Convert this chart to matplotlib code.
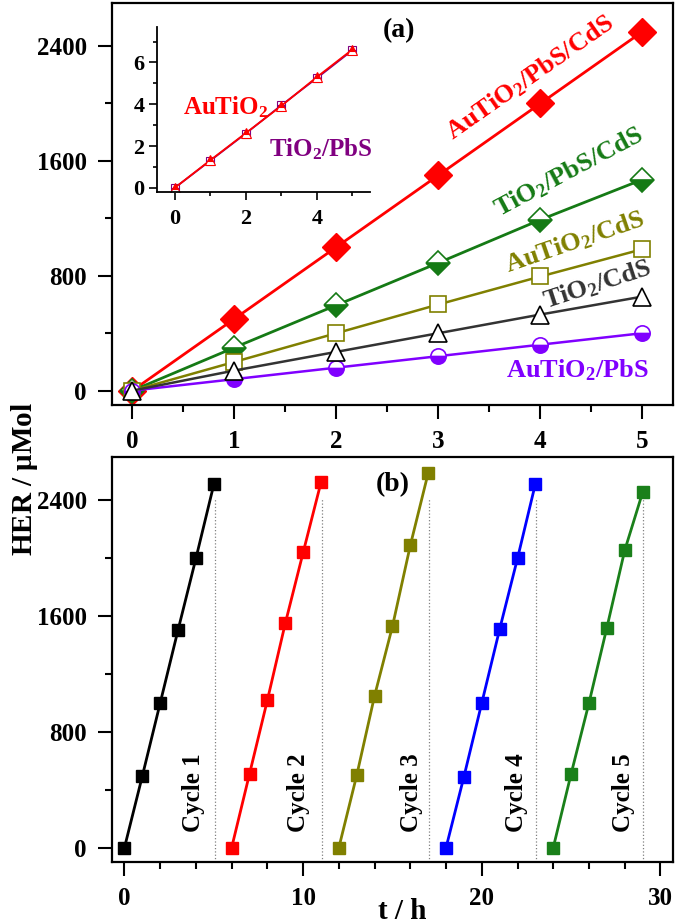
"""
HER vs. time for the photocatalyst series (a) and the recycling test (b)
"""

#---------------------------------------------------------------------------------------------------
# Import Modules
#---------------------------------------------------------------------------------------------------

import matplotlib
matplotlib.use('Agg')
import matplotlib.pyplot as plt
from matplotlib.ticker import MultipleLocator


#---------------------------------------------------------------------------------------------------
# Input Parameters
#---------------------------------------------------------------------------------------------------

# Panel (a): irradiation time (h)
t_a = [0, 1, 2, 3, 4, 5]

# Panel (a): HER (umol) for each catalyst
her_au_pbs_cds = [0, 500, 1000, 1500, 2000, 2500]
her_ti_pbs_cds = [0, 300, 595, 890, 1190, 1470]
her_au_cds = [0, 200, 400, 600, 795, 985]
her_ti_cds = [0, 140, 270, 400, 530, 655]
her_au_pbs = [0, 80, 160, 240, 320, 400]

# Inset: HER for the bare catalysts
her_au = [0, 1.32, 2.62, 3.92, 5.3, 6.62]
her_ti_pbs = [0, 1.3, 2.6, 3.95, 5.25, 6.58]

# Panel (b): recycling cycles
t_cycles = [[0, 1, 2, 3, 4, 5],
            [6, 7, 8, 9, 10, 11],
            [12, 13, 14, 15, 16, 17],
            [18, 19, 20, 21, 22, 23],
            [24, 25, 26, 27, 28, 29]]
her_cycles = [[0, 495, 1000, 1505, 2000, 2510],
              [0, 510, 1020, 1550, 2040, 2525],
              [0, 500, 1050, 1530, 2090, 2590],
              [0, 490, 1000, 1510, 2000, 2515],
              [0, 510, 1000, 1520, 2055, 2455]]
cycle_names = ['Cycle 1', 'Cycle 2', 'Cycle 3', 'Cycle 4', 'Cycle 5']
cycle_colors = ['black', '#ff0000', '#808000', '#0000ff', '#1a801a']

# Output file name
out_fname = 'out.png'


#---------------------------------------------------------------------------------------------------
# Main Program
#---------------------------------------------------------------------------------------------------

plt.rcParams['font.family'] = ['Liberation Serif', 'DejaVu Serif']
plt.rcParams['font.weight'] = 'bold'
plt.rcParams['mathtext.fontset'] = 'custom'
plt.rcParams['mathtext.rm'] = 'Liberation Serif:bold'
plt.rcParams['mathtext.bf'] = 'Liberation Serif:bold'
plt.rcParams['mathtext.it'] = 'Liberation Serif:bold'
plt.rcParams['mathtext.default'] = 'bf'
plt.rcParams['axes.linewidth'] = 1.6

fig = plt.figure(figsize=(6.75, 9.24), dpi=100)
ax_a = fig.add_axes([0.1659, 0.5617, 0.8311, 0.4351])
ax_b = fig.add_axes([0.1659, 0.0671, 0.8311, 0.4383])
labelsize = 18

for ax in [ax_a, ax_b]:
    ax.set_ylim(-100, 2700)
    ax.yaxis.set_major_locator(MultipleLocator(800))
    ax.yaxis.set_minor_locator(MultipleLocator(400))
    ax.tick_params(which='major', direction='out', length=10, width=1.5, labelsize=labelsize)
    ax.tick_params(which='minor', direction='out', length=5, width=1.5)
    ax.tick_params(axis='y', pad=8)
    ax.tick_params(axis='x', pad=8)

# ---- panel (a)
ax = ax_a
ax.set_xlim(-0.2, 5.3)
ax.xaxis.set_major_locator(MultipleLocator(1))
ax.xaxis.set_minor_locator(MultipleLocator(0.5))

ax.plot(t_a, her_au_pbs_cds, '-', c='#ff0000', lw=2, marker='D', ms=14, mfc='#ff0000',
        mec='#ff0000')
ax.plot(t_a, her_ti_pbs_cds, '-', c='#157a15', lw=2, marker='D', ms=12.5, fillstyle='bottom',
        mfc='#157a15', mfcalt='white', mec='#157a15', mew=1.2)
ax.plot(t_a, her_au_cds, '-', c='#808000', lw=1.8, marker='s', ms=11, mfc='white', mec='#808000',
        mew=1.2)
ax.plot(t_a, her_au_pbs, '-', c='#8000ff', lw=1.8, marker='o', ms=11, fillstyle='bottom',
        mfc='#8000ff', mfcalt='white', mec='#8000ff', mew=1.2)
ax.plot(t_a, her_ti_cds, '-', c='#333333', lw=1.8, marker='^', ms=13, mfc='white', mec='black',
        mew=1.2)

tkw = dict(ha='center', va='center', fontsize=19, fontweight='bold')
ax.text(3.9, 2180, r'AuTiO$_2$/PbS/CdS', color='#ff0000', rotation=35, **tkw)
ax.text(4.28, 1520, r'TiO$_2$/PbS/CdS', color='#157a15', rotation=28, **tkw)
ax.text(4.34, 1035, r'AuTiO$_2$/CdS', color='#808000', rotation=19, **tkw)
ax.text(4.56, 740, r'TiO$_2$/CdS', color='#333333', rotation=18, **tkw)
ax.text(4.36, 140, r'AuTiO$_2$/PbS', color='#8000ff', rotation=0, **tkw)
ax.text(2.61, 2510, '(a)', color='black', ha='center', va='center', fontsize=20, fontweight='bold')

# ---- inset
axi = fig.add_axes([0.2326, 0.7922, 0.3156, 0.1786])
axi.patch.set_alpha(0)
axi.spines['top'].set_visible(False)
axi.spines['right'].set_visible(False)
axi.spines['left'].set_linewidth(1.3)
axi.spines['bottom'].set_linewidth(1.3)
axi.set_xlim(-0.5, 5.5)
axi.set_ylim(-0.2, 7.7)
axi.xaxis.set_major_locator(MultipleLocator(2))
axi.xaxis.set_minor_locator(MultipleLocator(1))
axi.yaxis.set_major_locator(MultipleLocator(2))
axi.yaxis.set_minor_locator(MultipleLocator(1))
axi.tick_params(which='major', direction='out', length=6, width=1.2, labelsize=16, pad=3)
axi.tick_params(which='minor', direction='out', length=3, width=1.2)
axi.tick_params(axis='x', pad=6)
axi.plot(t_a, her_ti_pbs, '-', c='#800080', lw=1.3, marker='s', ms=6, fillstyle='bottom',
         mfc='#800080', mfcalt='white', mec='#800080', mew=0.8)
axi.plot(t_a, her_au, '-', c='#ff0000', lw=1.3, marker='^', ms=7, fillstyle='top',
         mfc='#ff0000', mfcalt='white', mec='#ff0000', mew=0.8)
axi.text(1.43, 3.85, r'AuTiO$_2$', color='#ff0000', ha='center', va='center', fontsize=18,
         fontweight='bold')
axi.text(4.1, 1.85, r'TiO$_2$/PbS', color='#800080', ha='center', va='center', fontsize=18,
         fontweight='bold')

# ---- panel (b)
ax = ax_b
ax.set_xlim(-0.7, 30.7)
ax.xaxis.set_major_locator(MultipleLocator(10))
ax.xaxis.set_minor_locator(MultipleLocator(2))

cycle_x = [3.85, 9.75, 16.05, 21.95, 27.95]
for t, h, c, name, cx in zip(t_cycles, her_cycles, cycle_colors, cycle_names, cycle_x):
    ax.plot(t, h, '-', c=c, lw=2, marker='s', ms=8.5, mfc=c, mec=c)
    ax.vlines(t[-1] + 0.05, -100, 2420, colors='gray', linestyles=':', lw=0.9)
    ax.text(cx, 380, name, rotation=90, ha='center', va='center', fontsize=18,
            fontweight='bold', color='black')
ax.text(15.0, 2510, '(b)', color='black', ha='center', va='center', fontsize=20,
        fontweight='bold')

# Shared labels
fig.text(0.037, 0.482, r'HER / $\mathbf{\mu}$Mol', rotation=90, ha='center', va='center',
         fontsize=21, fontweight='bold')
fig.text(0.596, 0.013, 't / h', ha='center', va='center', fontsize=21, fontweight='bold')

plt.savefig(out_fname, dpi=100)
